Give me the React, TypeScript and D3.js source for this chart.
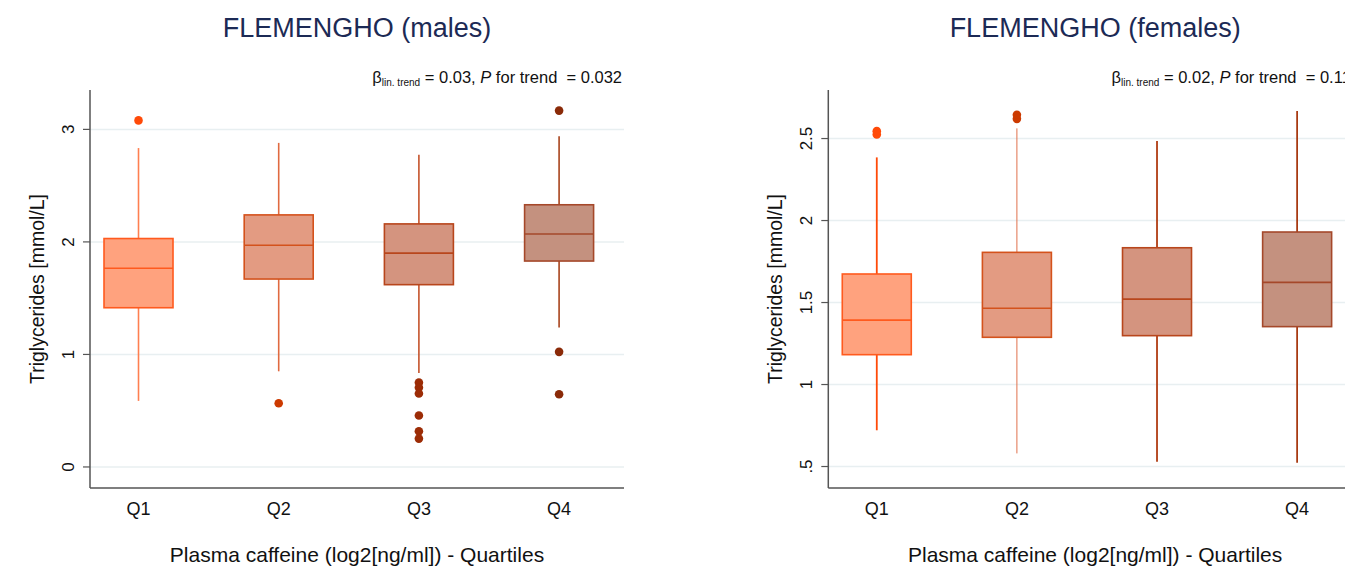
import React from "react";
import * as d3 from "d3";

const categories = ["Q1", "Q2", "Q3", "Q4"];

// Males (FLEMENGHO)
const maleLowerWhisker = [0.587, 0.85, 0.836, 1.24];
const maleQ1 = [1.415, 1.67, 1.62, 1.83];
const maleMedian = [1.766, 1.97, 1.9, 2.07];
const maleQ3 = [2.03, 2.24, 2.16, 2.33];
const maleUpperWhisker = [2.834, 2.88, 2.775, 2.94];
const maleOutliers = [[3.08], [0.566], [0.75, 0.706, 0.653, 0.457, 0.317, 0.252], [3.167, 1.023, 0.646]];
const maleTicks = [0, 1, 2, 3];
const maleTickLabels = ["0", "1", "2", "3"];

// Females (FLEMENGHO)
const femaleLowerWhisker = [0.721, 0.58, 0.529, 0.523];
const femaleQ1 = [1.182, 1.288, 1.298, 1.353];
const femaleMedian = [1.393, 1.465, 1.521, 1.623];
const femaleQ3 = [1.674, 1.806, 1.834, 1.93];
const femaleUpperWhisker = [2.385, 2.562, 2.485, 2.668];
const femaleOutliers = [[2.525, 2.545], [2.62, 2.645], [], []];
const femaleTicks = [0.5, 1, 1.5, 2, 2.5];
const femaleTickLabels = [".5", "1", "1.5", "2", "2.5"];

const fills = ["#ffa27e", "#e39b82", "#d4947f", "#c4917f"];
const strokes = ["#ff5a1e", "#d4521c", "#b8461c", "#a5482a"];
const outlierColors = ["#ff4a08", "#cc3a00", "#9c2c06", "#8a2a08"];
const FONT = "'Liberation Sans', Arial, Helvetica, sans-serif";

type PanelProps = {
  x0: number;
  x1: number;
  title: string;
  domain: [number, number];
  lo: number[];
  q1: number[];
  med: number[];
  q3: number[];
  hi: number[];
  out: number[][];
  ticks: number[];
  tickLabels: string[];
  beta: string;
  pval: string;
  whiskerColors: string[];
  whiskerWidths: number[];
};

const TOP = 90;
const BOTTOM = 488;

function Panel(p: PanelProps) {
  const x = d3.scaleLinear().domain([0.654, 4.463]).range([p.x0, p.x1]);
  const y = d3.scaleLinear().domain(p.domain).range([BOTTOM, TOP]);
  const hw = 34.5;
  const cx = (p.x0 + p.x1) / 2;
  return (
    <g fontFamily={FONT}>
      <text x={cx} y={37} textAnchor="middle" fontSize={27} fill="#1c2a55">
        {p.title}
      </text>
      <text x={p.x1 - 2} y={83} textAnchor="end" fontSize={16.5} fill="#111" style={{ whiteSpace: "pre" }}>
        <tspan>β</tspan>
        <tspan fontSize={10} dy={3}>lin. trend</tspan>
        <tspan dy={-3}>{` = ${p.beta}, `}</tspan>
        <tspan fontStyle="italic">P</tspan>
        <tspan>{` for trend  = ${p.pval}`}</tspan>
      </text>
      {p.ticks.map((t) => (
        <line key={"g" + t} x1={p.x0} x2={p.x1} y1={y(t)} y2={y(t)} stroke="#e8eff1" strokeWidth={1.5} />
      ))}
      {categories.map((c, i) => {
        const xc = x(i + 1);
        return (
          <g key={c}>
            <line x1={xc} x2={xc} y1={y(p.q3[i])} y2={y(p.hi[i])} stroke={p.whiskerColors[i]} strokeWidth={p.whiskerWidths[i]} />
            <line x1={xc} x2={xc} y1={y(p.q1[i])} y2={y(p.lo[i])} stroke={p.whiskerColors[i]} strokeWidth={p.whiskerWidths[i]} />
            <rect
              x={xc - hw}
              y={y(p.q3[i])}
              width={hw * 2}
              height={y(p.q1[i]) - y(p.q3[i])}
              fill={fills[i]}
              stroke={strokes[i]}
              strokeWidth={1.6}
            />
            <line x1={xc - hw} x2={xc + hw} y1={y(p.med[i])} y2={y(p.med[i])} stroke={strokes[i]} strokeWidth={1.6} />
            {p.out[i].map((v, k) => (
              <circle key={k} cx={xc} cy={y(v)} r={4.3} fill={outlierColors[i]} />
            ))}
            <text x={xc} y={515} textAnchor="middle" fontSize={18} fill="#111">
              {c}
            </text>
          </g>
        );
      })}
      {p.ticks.map((t, i) => (
        <g key={"t" + t}>
          <line x1={p.x0 - 7} x2={p.x0} y1={y(t)} y2={y(t)} stroke="#555" strokeWidth={1.2} />
          <text
            transform={`translate(${p.x0 - 16},${y(t)}) rotate(-90)`}
            textAnchor="middle"
            fontSize={17}
            fill="#111"
          >
            {p.tickLabels[i]}
          </text>
        </g>
      ))}
      <line x1={p.x0} x2={p.x0} y1={TOP} y2={BOTTOM} stroke="#555" strokeWidth={1.5} />
      <line x1={p.x0} x2={p.x1} y1={BOTTOM} y2={BOTTOM} stroke="#555" strokeWidth={1.5} />
      <text
        transform={`translate(${p.x0 - 46},${(TOP + BOTTOM) / 2}) rotate(-90)`}
        textAnchor="middle"
        fontSize={19.5}
        fill="#111"
      >
        Triglycerides [mmol/L]
      </text>
      <text x={cx} y={562} textAnchor="middle" fontSize={21} fill="#111">
        Plasma caffeine (log2[ng/ml]) - Quartiles
      </text>
    </g>
  );
}

export default function App() {
  return (
    <svg
      width={1345}
      height={571}
      style={{ position: "absolute", left: 0, top: 0, display: "block", background: "#fff" }}
    >
      <rect width={1345} height={571} fill="#fff" />
      <Panel
        x0={90}
        x1={624}
        title="FLEMENGHO (males)"
        domain={[-0.187, 3.35]}
        lo={maleLowerWhisker}
        q1={maleQ1}
        med={maleMedian}
        q3={maleQ3}
        hi={maleUpperWhisker}
        out={maleOutliers}
        ticks={maleTicks}
        tickLabels={maleTickLabels}
        beta="0.03"
        pval="0.032"
        whiskerColors={["#ff7f50", "#e06a40", "#c5532c", "#a8431c"]}
        whiskerWidths={[1.6, 1.6, 1.6, 1.6]}
      />
      <Panel
        x0={828.3}
        x1={1362}
        title="FLEMENGHO (females)"
        domain={[0.369, 2.796]}
        lo={femaleLowerWhisker}
        q1={femaleQ1}
        med={femaleMedian}
        q3={femaleQ3}
        hi={femaleUpperWhisker}
        out={femaleOutliers}
        ticks={femaleTicks}
        tickLabels={femaleTickLabels}
        beta="0.02"
        pval="0.115"
        whiskerColors={["#ff4a08", "#e0704c", "#b03c12", "#a83a12"]}
        whiskerWidths={[1.8, 1.0, 1.8, 1.8]}
      />
    </svg>
  );
}
